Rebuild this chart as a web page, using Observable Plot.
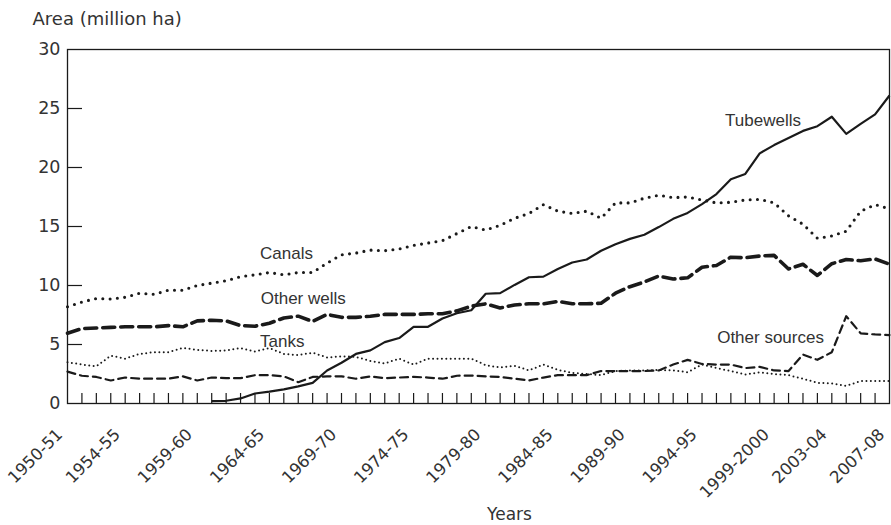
<!DOCTYPE html>
<html>
<head>
<meta charset="utf-8">
<script src="https://cdn.jsdelivr.net/npm/d3@7"></script>
<script src="https://cdn.jsdelivr.net/npm/@observablehq/plot@0.6"></script>
<style>
  html, body { margin: 0; padding: 0; background: #fff; }
</style>
</head>
<body>
<div id="chart"></div>
<script>
// ---- Data ----
const years = [1950,1951,1952,1953,1954,1955,1956,1957,1958,1959,
  1960,1961,1962,1963,1964,1965,1966,1967,1968,1969,
  1970,1971,1972,1973,1974,1975,1976,1977,1978,1979,
  1980,1981,1982,1983,1984,1985,1986,1987,1988,1989,
  1990,1991,1992,1993,1994,1995,1996,1997,1998,1999,
  2000,2001,2002,2003,2004,2005,2006,2007];

const tickYears = [1950,1954,1959,1964,1969,1974,1979,1984,1989,1994,1999,2003,2007];
const tickLabels = ["1950-51","1954-55","1959-60","1964-65","1969-70","1974-75","1979-80",
  "1984-85","1989-90","1994-95","1999-2000","2003-04","2007-08"];
const yTicks = [0,5,10,15,20,25,30];

const canals = [8.2,8.6,8.9,8.85,9.0,9.35,9.25,9.6,9.6,10.0,
  10.2,10.4,10.75,10.9,11.1,10.9,11.1,11.1,11.9,12.6,
  12.75,13.0,12.95,13.1,13.4,13.6,13.8,14.4,15.0,14.7,
  15.1,15.7,16.1,16.85,16.3,16.1,16.3,15.7,17.0,17.0,
  17.4,17.65,17.45,17.5,17.25,17.0,17.05,17.25,17.3,17.0,
  15.9,15.2,14.0,14.2,14.6,16.3,16.85,16.5];

const otherWells = [5.95,6.35,6.4,6.45,6.5,6.5,6.5,6.6,6.5,7.0,
  7.05,7.0,6.6,6.55,6.8,7.25,7.4,6.95,7.55,7.3,
  7.3,7.4,7.55,7.55,7.55,7.6,7.6,7.85,8.25,8.45,
  8.1,8.35,8.45,8.45,8.65,8.45,8.45,8.5,9.35,9.9,
  10.3,10.8,10.55,10.65,11.55,11.7,12.4,12.35,12.5,12.55,
  11.4,11.8,10.85,11.85,12.2,12.1,12.25,11.8];

const tubewells = [null,null,null,null,null,null,null,null,null,null,
  0.2,0.23,0.43,0.85,1.0,1.2,1.45,1.75,2.8,3.45,
  4.2,4.5,5.2,5.55,6.5,6.5,7.2,7.65,7.9,9.3,
  9.35,10.05,10.7,10.75,11.4,11.95,12.2,12.95,13.5,13.95,
  14.3,14.95,15.65,16.15,16.9,17.75,19.0,19.45,21.2,21.9,
  22.5,23.1,23.5,24.3,22.85,23.7,24.5,26.1];

const tanks = [3.5,3.3,3.15,4.05,3.8,4.2,4.35,4.35,4.7,4.55,
  4.45,4.5,4.7,4.4,4.7,4.2,4.1,4.3,3.9,4.0,
  3.95,3.6,3.4,3.8,3.3,3.8,3.8,3.8,3.8,3.25,
  3.05,3.2,2.8,3.3,2.85,2.6,2.5,2.4,2.75,2.8,
  2.8,2.85,2.8,2.65,3.3,3.0,2.75,2.45,2.65,2.5,
  2.4,2.1,1.75,1.7,1.5,1.9,1.9,1.9];

const otherSources = [2.7,2.35,2.25,1.95,2.2,2.1,2.1,2.1,2.3,1.95,
  2.2,2.15,2.15,2.4,2.4,2.3,1.8,2.25,2.3,2.3,
  2.1,2.3,2.15,2.2,2.25,2.2,2.1,2.35,2.37,2.3,
  2.25,2.1,1.95,2.2,2.4,2.4,2.4,2.75,2.75,2.75,
  2.75,2.8,3.3,3.7,3.35,3.3,3.3,3.0,3.1,2.8,
  2.75,4.15,3.7,4.35,7.4,5.95,5.85,5.8];

const labelNames = ["Tubewells","Canals","Other wells","Tanks","Other sources"];
const labelYears = [1995.6,1963.35,1963.4,1963.35,1995.05];
const labelValues = [24.0,12.67,8.86,5.25,5.62];

// ---- Styles ----
const ink = "#1a1a1a";
const textColor = "#333";
const tickFont = "'DejaVu Sans', sans-serif";
const labelFont = "'Liberation Sans', Arial, sans-serif";

const series = [
  {values: canals, strokeWidth: 3.1, dash: "0,7.3"},
  {values: otherWells, strokeWidth: 3.6, dash: "12,6"},
  {values: tubewells, strokeWidth: 2.2, dash: null},
  {values: tanks, strokeWidth: 2.0, dash: "0,4.4"},
  {values: otherSources, strokeWidth: 2.2, dash: "8,5"}
];

const lineMarks = series.map(s => Plot.line(years.map((yr, i) => ({year: yr, v: s.values[i]})), {
  x: "year", y: "v",
  stroke: ink, strokeWidth: s.strokeWidth,
  strokeDasharray: s.dash, strokeLinecap: s.dash ? "round" : "butt",
  strokeLinejoin: "round"
}));

const labels = labelNames.map((n, i) => ({name: n, year: labelYears[i], v: labelValues[i]}));

const chart = Plot.plot({
  width: 891,
  height: 525,
  marginLeft: 67,
  marginRight: 2,
  marginTop: 49,
  marginBottom: 122,
  style: {background: "#fff", color: textColor, overflow: "visible"},
  x: {domain: [1950, 2007]},
  y: {domain: [0, 30]},
  marks: [
    Plot.frame({stroke: ink, strokeWidth: 1.3}),
    Plot.axisY({ticks: [5,10,15,20,25], tickSize: -15, tickFormat: () => "", label: null, stroke: ink, strokeWidth: 1.2}),
    Plot.axisY({ticks: yTicks, tickSize: 0, tickPadding: 7, label: null, fontSize: 17.5, fontFamily: tickFont, fill: textColor}),
    Plot.axisX({ticks: years.slice(1, -1), tickSize: -10, tickFormat: () => "", label: null, stroke: ink, strokeWidth: 1.2}),
    Plot.text(tickYears, {
      x: d => d, text: (d, i) => tickLabels[i], frameAnchor: "bottom",
      rotate: -45, textAnchor: "end", lineAnchor: "bottom", dx: -4, dy: 32,
      fontSize: 16.5, fontFamily: tickFont, fill: textColor
    }),
    ...lineMarks,
    Plot.text(labels, {
      x: "year", y: "v", text: "name", textAnchor: "start", lineAnchor: "middle",
      fontSize: 17, fontFamily: labelFont, fill: textColor
    }),
    Plot.text(["Area (million ha)"], {
      text: d => d, frameAnchor: "top-left", dx: -35, dy: -25, textAnchor: "start", lineAnchor: "bottom",
      fontSize: 18, fontFamily: tickFont, fill: textColor
    }),
    Plot.text(["Years"], {
      text: d => d, frameAnchor: "bottom", dx: 31, dy: 116, textAnchor: "middle", lineAnchor: "bottom",
      fontSize: 17, fontFamily: tickFont, fill: textColor
    })
  ]
});

document.getElementById("chart").appendChild(chart);
</script>
</body>
</html>
